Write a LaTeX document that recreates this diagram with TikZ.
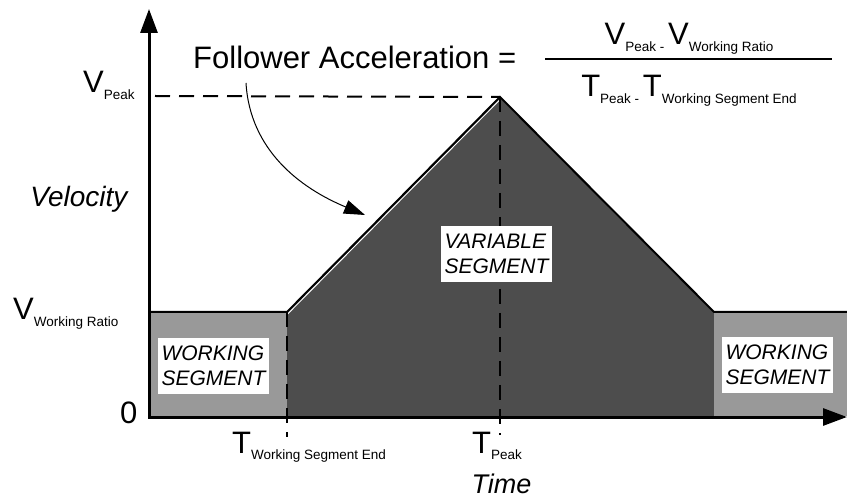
\documentclass[tikz,border=0pt]{standalone}
\usepackage{fontspec}
\setmainfont{Liberation Sans}
\usetikzlibrary{arrows.meta}
\definecolor{segLight}{HTML}{999999}
\definecolor{segDark}{HTML}{4D4D4D}
\newcommand{\bigf}{\fontsize{31}{31}\selectfont}
\newcommand{\subf}{\fontsize{13.5}{14}\selectfont}
\newcommand{\axf}{\fontsize{28}{28}\selectfont\itshape}
\newcommand{\timef}{\fontsize{27}{27}\selectfont\itshape}
\newcommand{\boxf}{\fontsize{21}{25}\selectfont\itshape}
\newcommand{\lowsub}[1]{\raisebox{-6.5pt}{\subf #1}}
\begin{document}
\begin{tikzpicture}[x=1pt,y=-1pt,
  txt/.style={inner sep=0pt, anchor=base west},
  seglabel/.style={fill=white, inner xsep=4pt, inner ysep=0pt, minimum width=111pt, minimum height=56pt, align=left, font=\boxf},
  dashline/.style={line width=2pt, dash pattern=on 15pt off 9pt},
  axisline/.style={line width=3pt, line join=miter, {Triangle[length=24pt,width=17pt]}-{Triangle[length=24pt,width=17pt]}},
  profile/.style={line width=2pt, line join=miter},
  pointer/.style={line width=1pt, -{Triangle[length=21pt,width=14pt]}},
]
\useasboundingbox (0,0) rectangle (847,497);
% key coordinates
\coordinate (origin) at (149,417);
\coordinate (ytip) at (149,9);
\coordinate (xtip) at (847,417);
\coordinate (wlStart) at (151,312);
\coordinate (wsEnd) at (287,312);
\coordinate (peak) at (500,97);
\coordinate (wrStart) at (714,312);
\coordinate (wrEnd) at (847,312);
% fills
\fill[segLight] (151,313) rectangle (287,416);
\fill[segDark] (287,313) -- (500,98) -- (714,313) -- (714,416) -- (287,416) -- cycle;
\fill[segLight] (714,313) rectangle (847,416);
% profile
\draw[white, line width=1pt] ([yshift=-2.6pt]wsEnd) -- ([yshift=-2.6pt]peak);
\draw[profile] (wlStart) -- (wsEnd) -- (peak) -- (wrStart) -- (wrEnd);
% dashed guides
\coordinate (vpLeft) at (155,96);
\coordinate (wsLow) at (287,437);
\coordinate (pkLow) at (500,435);
\draw[dashline] (vpLeft) -- (peak);
\draw[dashline] (wsEnd) -- (wsLow);
\draw[dashline] (peak) -- (pkLow);
% axes
\draw[axisline] (ytip) -- (origin) -- (xtip);
% segment labels
\node[seglabel] (wsLeft) at (213.5,366) {WORKING\\SEGMENT};
\node[seglabel] (varSeg) at (496.5,254) {VARIABLE\\SEGMENT};
\node[seglabel] (wsRight) at (777.5,365) {WORKING\\SEGMENT};
% text labels
\node[txt] (vpeak) at (83,93) {\bigf V\lowsub{Peak}};
\node[txt] (vwork) at (13,320) {\bigf V\lowsub{Working Ratio}};
\node[txt] (zero) at (120,423) {\bigf 0};
\node[inner sep=0pt, anchor=base] (vel) at (79,207) {\axf Velocity};
\node[inner sep=0pt, anchor=base] (time) at (501.5,493) {\timef Time};
\node[txt] (twse) at (232,453) {\bigf T\lowsub{Working Segment End}};
\node[txt] (tpeak) at (472,453) {\bigf T\lowsub{Peak}};
% formula
\node[txt] (follow) at (193,69) {\bigf Follower Acceleration =};
\node[inner sep=0pt, anchor=base] (numer) at (689,45) {\bigf V\lowsub{Peak - }V\lowsub{Working Ratio}};
\node[inner sep=0pt, anchor=base] (denom) at (689,97) {\bigf T\lowsub{Peak - }T\lowsub{Working Segment End}};
\coordinate (fracL) at (545,59);
\coordinate (fracR) at (832,59);
\draw[line width=2pt] (fracL) -- (fracR);
% pointer
\coordinate (cstart) at (246,83);
\coordinate (ctip) at (365,215);
\draw[pointer] (cstart) .. controls (250,150) and (300,188) .. (ctip);
\end{tikzpicture}
\end{document}
